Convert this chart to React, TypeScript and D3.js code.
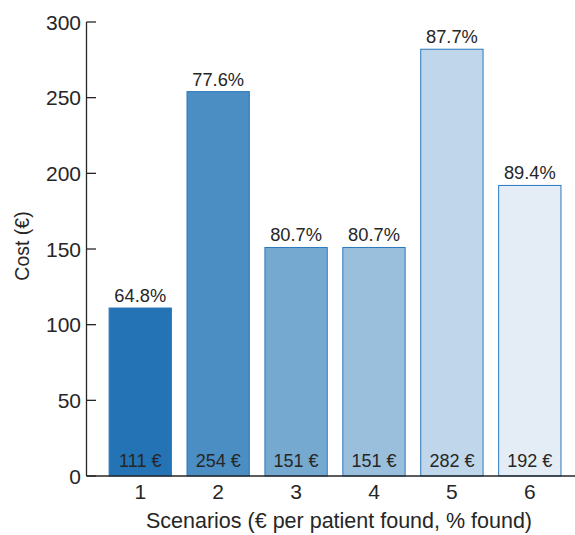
import React from "react";
import * as d3 from "d3";

const scenarios = [1, 2, 3, 4, 5, 6];
const costs = [111, 254, 151, 151, 282, 192];
const foundPct = ["64.8%", "77.6%", "80.7%", "80.7%", "87.7%", "89.4%"];
const costLabels = ["111 €", "254 €", "151 €", "151 €", "282 €", "192 €"];
const fills = ["#2474b5", "#4a8ec4", "#75a9d0", "#9abfdc", "#c0d7eb", "#e4edf6"];
const yTicks = [0, 50, 100, 150, 200, 250, 300];

const W = 575, H = 535;
const FONT = "'Liberation Sans', Arial, Helvetica, sans-serif";
const TXT = "#262626";

export default function App() {
  const x = d3.scaleLinear().domain([0.31, 6.58]).range([86.5, 575]);
  const y = d3.scaleLinear().domain([0, 300]).range([476, 22]);
  const bw = x(1.4) - x(0.6);

  return (
    <svg width={W} height={H} style={{ position: "absolute", left: 0, top: 0 }} fontFamily={FONT}>
      <rect width={W} height={H} fill="#fff" />
      {scenarios.map((s, i) => (
        <g key={s}>
          <rect
            x={x(s) - bw / 2}
            y={y(costs[i])}
            width={bw}
            height={y(0) - y(costs[i])}
            fill={fills[i]}
            stroke="#2a78be"
            strokeWidth={1}
          />
          <text x={x(s)} y={y(costs[i]) - 6} textAnchor="middle" fontSize={18.3} fill={TXT}>
            {foundPct[i]}
          </text>
          <text x={x(s)} y={y(0) - 9} textAnchor="middle" fontSize={18} fill={TXT}>
            {costLabels[i]}
          </text>
          <text x={x(s)} y={499} textAnchor="middle" fontSize={21} fill={TXT}>
            {s}
          </text>
        </g>
      ))}
      <line x1={86.5} y1={y(300)} x2={86.5} y2={y(0)} stroke={TXT} strokeWidth={1.3} />
      <line x1={86.5} y1={y(0)} x2={575} y2={y(0)} stroke={TXT} strokeWidth={1.3} />
      {yTicks.map((t) => (
        <g key={t}>
          <line x1={86.5} x2={96} y1={y(t)} y2={y(t)} stroke={TXT} strokeWidth={1.3} />
          <text x={81} y={y(t)} dy="0.36em" textAnchor="end" fontSize={21} fill={TXT}>
            {t}
          </text>
        </g>
      ))}
      <text
        transform={`translate(29,${y(152)}) rotate(-90)`}
        textAnchor="middle"
        fontSize={19.5}
        fill={TXT}
      >
        Cost (€)
      </text>
      <text x={339} y={528} textAnchor="middle" fontSize={21.5} fill={TXT}>
        Scenarios (€ per patient found, % found)
      </text>
    </svg>
  );
}
